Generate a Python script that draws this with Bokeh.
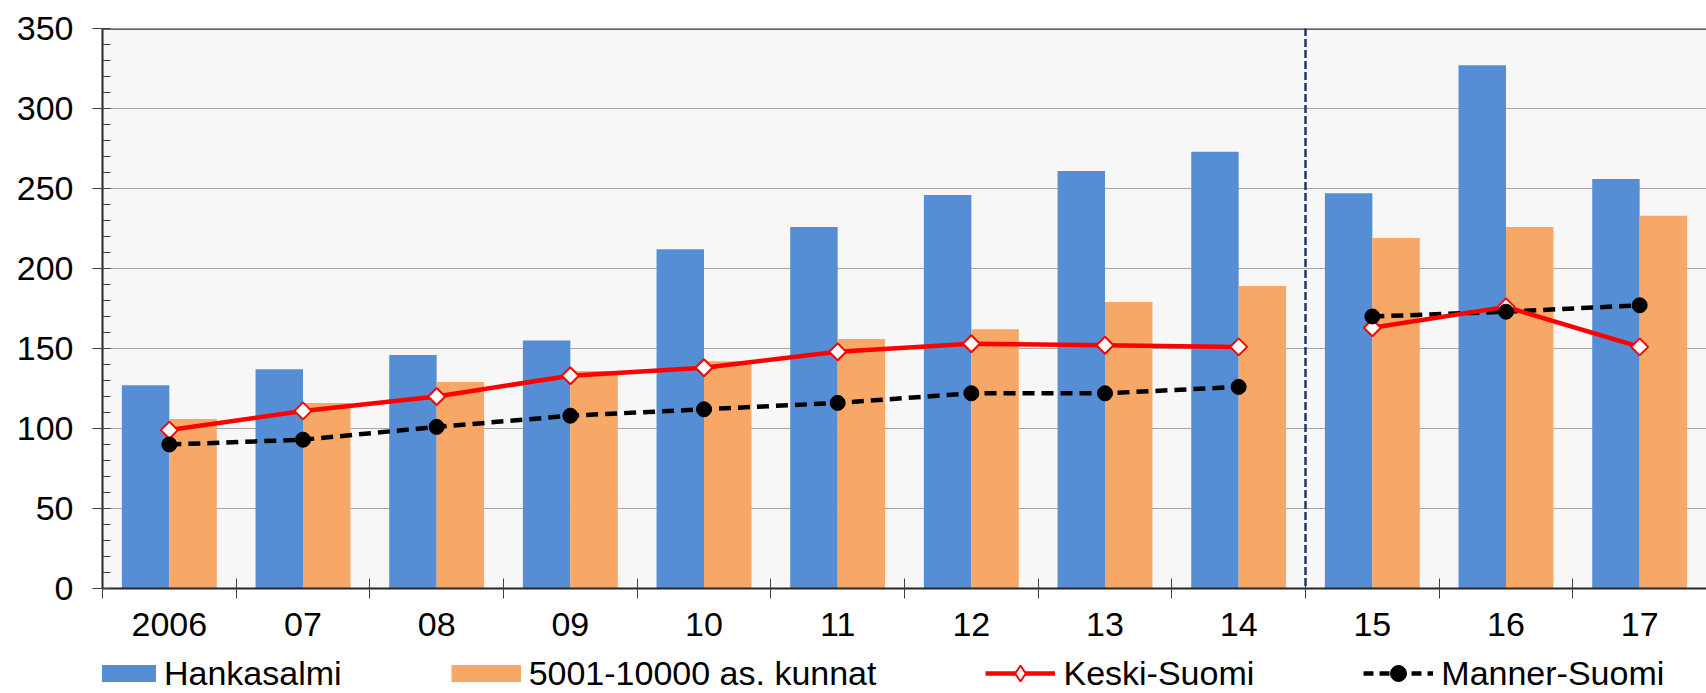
import math
from bokeh.plotting import figure
from bokeh.layouts import column
from bokeh.embed import file_html
from bokeh.resources import INLINE
from bokeh.models import (ColumnDataSource, Range1d, FixedTicker, SingleIntervalTicker,
                          Span, Arrow, Legend, LegendItem, CustomJSTickFormatter)
from bokeh.transform import dodge

# ---- data ----
categories = ["2006", "07", "08", "09", "10", "11", "12", "13", "14", "15", "16", "17"]
hankasalmi = [127, 137, 146, 155, 212, 226, 246, 261, 273, 247, 327, 256]
kunnat_5001_10000 = [106, 116, 129, 136, 142, 156, 162, 179, 189, 219, 226, 233]
keski_suomi = [99, 111, 120, 133, 138, 148, 153, 152, 151, 163, 176, 151]
manner_suomi = [90, 93, 101, 108, 112, 116, 122, 122, 126, 170, 173, 177]
series_names = ["Hankasalmi", "5001-10000 as. kunnat", "Keski-Suomi", "Manner-Suomi"]
break_before = "15"
y_max = 350
y_step = 50

FONT = "Liberation Sans"
BLUE = "#558ED5"
ORANGE = "#F7A766"
W = 1706
LEG_H = 44

n = len(categories)
xc = [i + 0.5 for i in range(n)]
src = ColumnDataSource(dict(x=xc, h=hankasalmi, k=kunnat_5001_10000))

brk = categories.index(break_before)
seg1 = ColumnDataSource(dict(x=xc[:brk], ks=keski_suomi[:brk], ms=manner_suomi[:brk]))
seg2 = ColumnDataSource(dict(x=xc[brk:], ks=keski_suomi[brk:], ms=manner_suomi[brk:]))

H1 = 693 - LEG_H
p = figure(width=W, height=H1, x_range=Range1d(0, n), y_range=Range1d(0, y_max),
           output_backend="svg", toolbar_location=None,
           min_border_left=102, min_border_right=0, min_border_top=28,
           min_border_bottom=H1 - 588,
           background_fill_color="#F7F7F7", border_fill_color="white",
           outline_line_color=None)

bw = 0.355
p.vbar(x=dodge("x", -bw / 2, range=p.x_range), top="h", width=bw, source=src,
       fill_color=BLUE, line_color=None)
p.vbar(x=dodge("x", bw / 2, range=p.x_range), top="k", width=bw, source=src,
       fill_color=ORANGE, line_color=None)

for s in (seg1, seg2):
    p.line("x", "ms", source=s, line_color="black", line_width=4.5, line_dash="12 7")
    p.line("x", "ks", source=s, line_color="#FF0000", line_width=4.5)
    p.scatter("x", "ks", source=s, marker="square", angle=math.pi / 4, size=12,
              fill_color="white", line_color="#FF0000", line_width=2)
    p.scatter("x", "ms", source=s, marker="circle", size=15,
              fill_color="black", line_color="black")

# grid
p.xgrid.visible = False
p.ygrid.ticker = SingleIntervalTicker(interval=y_step)
p.ygrid.grid_line_color = "#555555"
p.ygrid.grid_line_dash = "1 1"
p.ygrid.grid_line_width = 1.2

# y axis
ya = p.yaxis[0]
ya.ticker = SingleIntervalTicker(interval=y_step, num_minor_ticks=5)
ya.axis_line_color = "#262626"
ya.axis_line_width = 2
ya.major_tick_in = 0
ya.major_tick_out = 10
ya.major_tick_line_color = "#404040"
ya.minor_tick_in = 8
ya.minor_tick_out = 0
ya.minor_tick_line_color = "#404040"
ya.major_label_text_font = FONT
ya.major_label_text_font_size = "34px"
ya.major_label_text_color = "black"
ya.major_label_standoff = 19

# x axis
xa = p.xaxis[0]
xa.ticker = FixedTicker(ticks=xc, minor_ticks=list(range(n + 1)))
xa.formatter = CustomJSTickFormatter(args=dict(labels=categories),
                                     code="return labels[Math.floor(tick)];")
xa.axis_line_color = "#262626"
xa.axis_line_width = 2
xa.major_tick_line_color = None
xa.major_tick_in = 0
xa.major_tick_out = 0
xa.minor_tick_in = 10
xa.minor_tick_out = 10
xa.minor_tick_line_color = "#404040"
xa.major_label_text_font = FONT
xa.major_label_text_font_size = "34px"
xa.major_label_text_color = "black"
xa.major_label_standoff = 14

# top frame line
p.add_layout(Span(location=y_max, dimension="width", line_color="#333333", line_width=2.5))

# divider between 14 and 15
p.add_layout(Arrow(end=None, x_start=brk, x_end=brk, y_start=-26, y_end=y_max + 4,
                   line_color="#1F3864", line_width=2.5, line_dash="8 3"))

# ---- legend strip ----
lf = figure(width=W, height=LEG_H, x_range=Range1d(0, 1), y_range=Range1d(0, 1),
            output_backend="svg", toolbar_location=None, x_axis_type=None,
            y_axis_type=None, min_border=0, min_border_left=0, min_border_right=0,
            min_border_top=0, min_border_bottom=0, outline_line_color=None,
            background_fill_color="white", border_fill_color="white")
lf.xgrid.visible = False
lf.ygrid.visible = False
sw_b = lf.line("x", "h", source=src, line_color=BLUE, line_width=17, line_cap="butt",
               visible=False)
sw_o = lf.line("x", "k", source=src, line_color=ORANGE, line_width=17, line_cap="butt",
               visible=False)
l_ks = lf.line("x", "ks", source=seg1, line_color="#FF0000", line_width=4.5, visible=False)
m_ks = lf.scatter("x", "ks", source=seg1, marker="diamond", size=18, fill_color="white",
                  line_color="#FF0000", line_width=2, visible=False)
l_ms = lf.line("x", "ms", source=seg1, line_color="black", line_width=4.5,
               line_dash="10 6", visible=False)
m_ms = lf.scatter("x", "ms", source=seg1, marker="circle", size=13, fill_color="black",
                  line_color="black", visible=False)

legend = Legend(items=[LegendItem(label=series_names[0], renderers=[sw_b]),
                       LegendItem(label=series_names[1], renderers=[sw_o]),
                       LegendItem(label=series_names[2], renderers=[l_ks, m_ks]),
                       LegendItem(label=series_names[3], renderers=[l_ms, m_ms])],
                orientation="horizontal", location=(-16, 0), padding=0, margin=0,
                border_line_color=None, background_fill_alpha=0,
                inactive_fill_alpha=0,
                glyph_width=70, glyph_height=40, label_standoff=8, spacing=109,
                label_text_font=FONT, label_text_font_size="34px", label_text_color="black")
lf.add_layout(legend)

layout = column(p, lf, spacing=0)
open("out.html", "w").write(file_html(layout, INLINE))
